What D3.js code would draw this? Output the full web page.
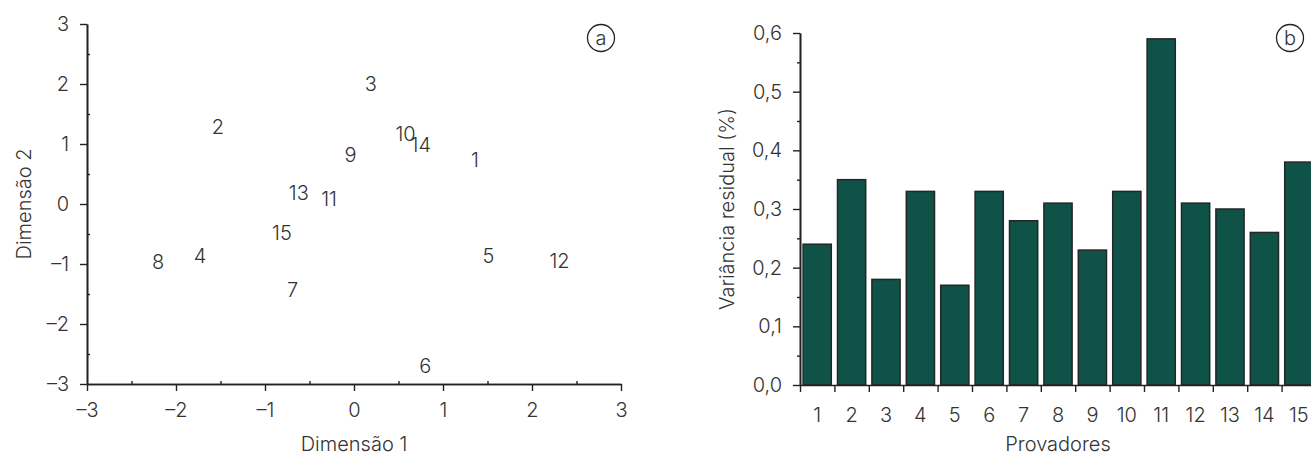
<!DOCTYPE html>
<html>
<head>
<meta charset="utf-8">
<script src="https://cdn.jsdelivr.net/npm/d3@7"></script>
<style>
  body { margin: 0; background: #fff; }
  text { font-family: Inter, "Liberation Sans", sans-serif; font-weight: 300; fill: #333; }
</style>
</head>
<body>
<div id="chart"></div>
<script>
// painel a - mapa de provadores
var provadores = ["1","2","3","4","5","6","7","8","9","10","11","12","13","14","15"];
var dim1 = [1.36, -1.53, 0.19, -1.73, 1.51, 0.80, -0.69, -2.20, -0.04, 0.58, -0.28, 2.31, -0.62, 0.75, -0.81];
var dim2 = [0.73, 1.28, 2.00, -0.87, -0.87, -2.70, -1.43, -0.97, 0.82, 1.17, 0.08, -0.95, 0.18, 0.98, -0.48];
var dimTicks = [-3, -2, -1, 0, 1, 2, 3];
var dimTickLabels = ["–3", "–2", "–1", "0", "1", "2", "3"];

// painel b - variancia residual
var variancia = [0.24, 0.35, 0.18, 0.33, 0.17, 0.33, 0.28, 0.31, 0.23, 0.33, 0.59, 0.31, 0.30, 0.26, 0.38];
var varTicks = [0, 0.1, 0.2, 0.3, 0.4, 0.5, 0.6];
var varTickLabels = ["0,0", "0,1", "0,2", "0,3", "0,4", "0,5", "0,6"];

var width = 1311;
var height = 457;
var ink = "#222";
var fontFamily = "Inter, 'Liberation Sans', sans-serif";
var fs = "20px";

var svg = d3.select("#chart")
    .append("svg")
    .attr("width", width)
    .attr("height", height);

function styleAxis(g) {
    g.selectAll("path.domain").attr("stroke", ink).attr("stroke-width", 1.6);
    g.selectAll(".tick line").attr("stroke", ink).attr("stroke-width", 1.4);
    g.selectAll(".tick text").style("font-size", fs).attr("fill", "#333")
        .style("font-family", fontFamily).style("font-weight", 300);
}

// ---------- painel a ----------
var xs = d3.scaleLinear().domain([-3, 3]).range([87, 621]);
var ys = d3.scaleLinear().domain([-3, 3]).range([384, 24]);

var halfTicks = d3.range(-2.5, 3, 1);

svg.append("g")
    .attr("transform", "translate(0," + ys(-3) + ")")
    .call(d3.axisBottom(xs).tickValues(halfTicks).tickSize(-3).tickSizeOuter(0).tickFormat(""))
    .call(styleAxis);

svg.append("g")
    .attr("transform", "translate(" + xs(-3) + ",0)")
    .call(d3.axisLeft(ys).tickValues(halfTicks).tickSize(-3).tickSizeOuter(0).tickFormat(""))
    .call(styleAxis);

svg.append("g")
    .attr("transform", "translate(0," + ys(-3) + ")")
    .call(d3.axisBottom(xs).tickValues(dimTicks).tickSize(7).tickSizeOuter(0).tickPadding(12)
        .tickFormat((d, i) => dimTickLabels[i]))
    .call(styleAxis);

svg.append("g")
    .attr("transform", "translate(" + xs(-3) + ",0)")
    .call(d3.axisLeft(ys).tickValues(dimTicks).tickSize(7).tickSizeOuter(0).tickPadding(11)
        .tickFormat((d, i) => dimTickLabels[i]))
    .call(styleAxis);

svg.selectAll("text.ponto")
    .data(provadores)
    .enter()
    .append("text")
    .attr("class", "ponto")
    .attr("x", (d, i) => xs(dim1[i]))
    .attr("y", (d, i) => ys(dim2[i]))
    .attr("text-anchor", "middle")
    .attr("dominant-baseline", "central")
    .style("font-size", fs)
    .text(d => d);

svg.append("text")
    .attr("x", xs(0))
    .attr("y", 444)
    .attr("text-anchor", "middle")
    .attr("dominant-baseline", "central")
    .style("font-size", fs)
    .text("Dimensão 1");

svg.append("text")
    .attr("transform", "translate(24," + ys(0) + ") rotate(-90)")
    .attr("text-anchor", "middle")
    .attr("dominant-baseline", "central")
    .style("font-size", fs)
    .text("Dimensão 2");

// ---------- painel b ----------
var xb = d3.scaleBand().domain(provadores).range([800, 1316]).paddingInner(0.18).paddingOuter(0.09);
var yb = d3.scaleLinear().domain([0, 0.6]).range([385, 33]);

svg.selectAll("rect.barra")
    .data(variancia)
    .enter()
    .append("rect")
    .attr("class", "barra")
    .attr("x", (d, i) => xb(provadores[i]))
    .attr("y", d => yb(d))
    .attr("width", xb.bandwidth())
    .attr("height", d => yb(0) - yb(d))
    .attr("fill", "#0f5248")
    .attr("stroke", "#262626")
    .attr("stroke-width", 1.5);

// ticks nas fronteiras das categorias
var xbTicks = d3.scaleLinear().domain([0, 15]).range([800, 1316]);
svg.append("g")
    .attr("transform", "translate(0," + yb(0) + ")")
    .call(d3.axisBottom(xbTicks).tickValues(d3.range(0, 15)).tickSize(7).tickSizeOuter(0).tickFormat(""))
    .call(styleAxis);

svg.append("g")
    .selectAll("text")
    .data(provadores)
    .enter()
    .append("text")
    .attr("x", d => xb(d) + xb.bandwidth() / 2)
    .attr("y", 415)
    .attr("text-anchor", "middle")
    .attr("dominant-baseline", "central")
    .style("font-size", fs)
    .text(d => d);

svg.append("g")
    .attr("transform", "translate(800,0)")
    .call(d3.axisLeft(yb).tickValues(d3.range(0.05, 0.6, 0.1)).tickSize(3).tickSizeOuter(0).tickFormat(""))
    .call(styleAxis);

svg.append("g")
    .attr("transform", "translate(800,0)")
    .call(d3.axisLeft(yb).tickValues(varTicks).tickSize(7).tickSizeOuter(0).tickPadding(11)
        .tickFormat((d, i) => varTickLabels[i]))
    .call(styleAxis);

svg.append("text")
    .attr("x", 1058)
    .attr("y", 444)
    .attr("text-anchor", "middle")
    .attr("dominant-baseline", "central")
    .style("font-size", fs)
    .text("Provadores");

svg.append("text")
    .attr("transform", "translate(727," + yb(0.3) + ") rotate(-90)")
    .attr("text-anchor", "middle")
    .attr("dominant-baseline", "central")
    .style("font-size", fs)
    .text("Variância residual (%)");

// rótulos dos painéis
var paineis = [{ id: "a", cx: 601, cy: 38 }, { id: "b", cx: 1290, cy: 38 }];
paineis.forEach(function (p) {
    svg.append("circle")
        .attr("cx", p.cx).attr("cy", p.cy).attr("r", 13.5)
        .attr("fill", "none").attr("stroke", ink).attr("stroke-width", 1.3);
    svg.append("text")
        .attr("x", p.cx).attr("y", p.cy)
        .attr("text-anchor", "middle")
        .attr("dominant-baseline", "central")
        .style("font-size", fs)
        .text(p.id);
});
</script>
</body>
</html>
